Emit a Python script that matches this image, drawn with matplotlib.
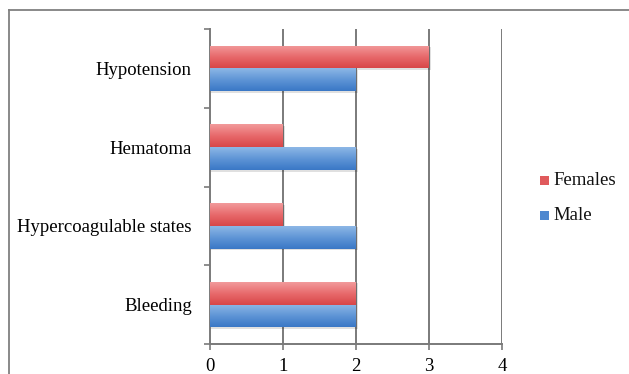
import numpy as np
import matplotlib
matplotlib.use("Agg")
import matplotlib.pyplot as plt
from matplotlib.patches import Rectangle
from matplotlib.colors import LinearSegmentedColormap

categories = ["Bleeding", "Hypercoagulable states", "Hematoma", "Hypotension"]
females = [2, 1, 1, 3]
males = [2, 2, 2, 2]
series_names = ["Females", "Male"]
xticks = [0, 1, 2, 3, 4]

W, H = 629, 374
fig = plt.figure(figsize=(W / 100, H / 100), dpi=100)
fig.patch.set_facecolor("white")

# outer frame (chart area border)
fig.add_artist(plt.Line2D([9 / W, 9 / W], [0, 1 - 10 / H], transform=fig.transFigure,
                          color="#808080", lw=1.3))
fig.add_artist(plt.Line2D([9 / W, 1], [1 - 10 / H, 1 - 10 / H], transform=fig.transFigure,
                          color="#808080", lw=1.3))

ax = fig.add_axes([210 / W, 30 / H, 292 / W, 315 / H])
ax.set_xlim(0, 4)
ax.set_ylim(-0.5, 3.5)

serif = ["Liberation Serif", "DejaVu Serif"]
bh = 0.29
y = np.arange(len(categories))

red_cmap = LinearSegmentedColormap.from_list("r", ["#d84648", "#e86a6c", "#f29a9b"])
blue_cmap = LinearSegmentedColormap.from_list("b", ["#3a78c6", "#5f95d6", "#8db7e6"])
grad = np.linspace(0, 1, 64).reshape(-1, 1)

def draw_bars(vals, offset, cmap, solid):
    for yi, v in zip(y, vals):
        yb = yi + offset
        sh = Rectangle((0, yb - bh / 2 - 0.02), v + 0.03, bh, facecolor="#000000",
                       alpha=0.12, edgecolor="none", zorder=2)
        ax.add_patch(sh)
        r = Rectangle((0, yb - bh / 2), v, bh, facecolor=solid, edgecolor="none", zorder=3)
        ax.add_patch(r)
        im = ax.imshow(grad, cmap=cmap, aspect="auto", origin="lower",
                       extent=[0, v, yb - bh / 2, yb + bh / 2], zorder=3.5,
                       interpolation="bilinear")
        im.set_clip_path(r)

draw_bars(females, bh / 2, red_cmap, "#e5696b")
draw_bars(males, -bh / 2, blue_cmap, "#5a92d4")
ax.set_xlim(0, 4)
ax.set_ylim(-0.5, 3.5)

for xv in xticks[1:]:
    ax.axvline(xv, color="#7a7a7a", lw=1.4, zorder=1)

for s in ["top", "right"]:
    ax.spines[s].set_visible(False)
for s in ["left", "bottom"]:
    ax.spines[s].set_color("#7a7a7a")
    ax.spines[s].set_linewidth(1.4)

fs = 13.5
ax.set_xticks(xticks)
ax.set_xticklabels([str(t) for t in xticks], fontfamily=serif, fontsize=fs)
ax.tick_params(axis="x", direction="out", length=4, width=1.2, color="#7a7a7a", pad=6)

ax.set_yticks(y)
ax.set_yticklabels(categories, fontfamily=serif, fontsize=fs)
ax.tick_params(axis="y", which="major", length=0, pad=13)
ax.set_yticks(np.arange(-0.5, 4.0, 1.0), minor=True)
ax.tick_params(axis="y", which="minor", direction="out", length=4, width=1.2, color="#7a7a7a")

for name, col, yy in [(series_names[0], "#e05a5c", 181), (series_names[1], "#4f88cf", 216)]:
    fig.add_artist(Rectangle((540 / W, 1 - (yy + 4) / H), 9 / W, 9 / H,
                             transform=fig.transFigure, facecolor=col, edgecolor="none"))
    fig.text(553 / W, 1 - yy / H, name, fontfamily=serif, fontsize=fs,
             va="center", ha="left", color="#111111")

fig.savefig("out.png", dpi=100, facecolor="white")
